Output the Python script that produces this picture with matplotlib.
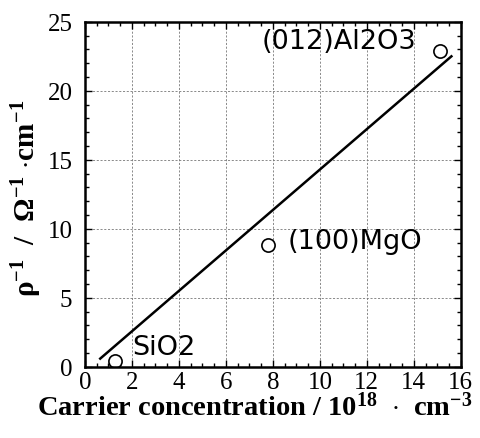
import matplotlib
matplotlib.use('Agg')
import matplotlib.pyplot as plt
from matplotlib.ticker import MultipleLocator

plt.rcParams['font.family'] = 'Liberation Serif'
plt.rcParams['mathtext.fontset'] = 'custom'
plt.rcParams['mathtext.rm'] = 'Liberation Serif'
plt.rcParams['mathtext.bf'] = 'Liberation Serif:bold'
plt.rcParams['mathtext.it'] = 'Liberation Serif:italic'

# measured samples
samples = ['SiO2', '(100)MgO', '(012)Al2O3']
carrier = [1.3, 7.8, 15.1]
conductivity = [0.45, 8.8, 22.9]

# fitted line end points
fit_x = [0.65, 15.6]
fit_y = [0.6, 22.5]

xticks = [0, 2, 4, 6, 8, 10, 12, 14, 16]
yticks = [0, 5, 10, 15, 20, 25]

fig = plt.figure(figsize=(4.8, 4.39), dpi=100)
ax = fig.add_axes([0.177, 0.162, 0.783, 0.786])

ax.plot(fit_x, fit_y, color='black', lw=1.8)
ax.plot(carrier, conductivity, 'o', mfc='white', mec='black', ms=9.5, mew=1.2)

# sample labels, offset from their points
offsets = [(12, 10, 'left'), (14, 3.5, 'left'), (-17, 7, 'right')]
for name, x, y, (dx, dy, ha) in zip(samples, carrier, conductivity, offsets):
    ax.annotate(name, (x, y), xytext=(dx, dy), textcoords='offset points',
                fontsize=19.5, family='DejaVu Sans', ha=ha, va='center')

ax.set_xlim(0, 16)
ax.set_ylim(0, 25)
ax.set_xticks(xticks)
ax.set_yticks(yticks)
ax.set_xticklabels([str(t) for t in xticks], family='Liberation Serif', fontsize=18)
ax.set_yticklabels([str(t) for t in yticks], family='Liberation Serif', fontsize=18)
ax.xaxis.set_minor_locator(MultipleLocator(0.5))
ax.yaxis.set_minor_locator(MultipleLocator(1))
ax.tick_params(which='both', direction='in', top=True, right=True, width=1)
ax.tick_params(which='major', length=5)
ax.tick_params(axis='x', pad=3)
ax.tick_params(axis='y', pad=9)
ax.tick_params(which='minor', length=3)

for s in ax.spines.values():
    s.set_linewidth(1.8)

ax.grid(True, which='major', ls=(0, (2.5, 2)), lw=0.6, color='#777777')

ax.set_xlabel(r'Carrier concentration / 10$^{\mathbf{18}}$  $\cdot$  cm$^{\mathbf{-3}}$',
              family='Liberation Serif', fontweight='bold', fontsize=20.5)
ax.xaxis.set_label_coords(0.452, -0.072)
ax.set_ylabel(r'ρ$^{\mathbf{-1}}$  /  Ω$^{\mathbf{-1}}$ $\cdot$cm$^{\mathbf{-1}}$',
              family='Liberation Serif', fontweight='bold', fontsize=21)
ax.yaxis.set_label_coords(-0.11, 0.49)

fig.savefig('out.png', dpi=100)
